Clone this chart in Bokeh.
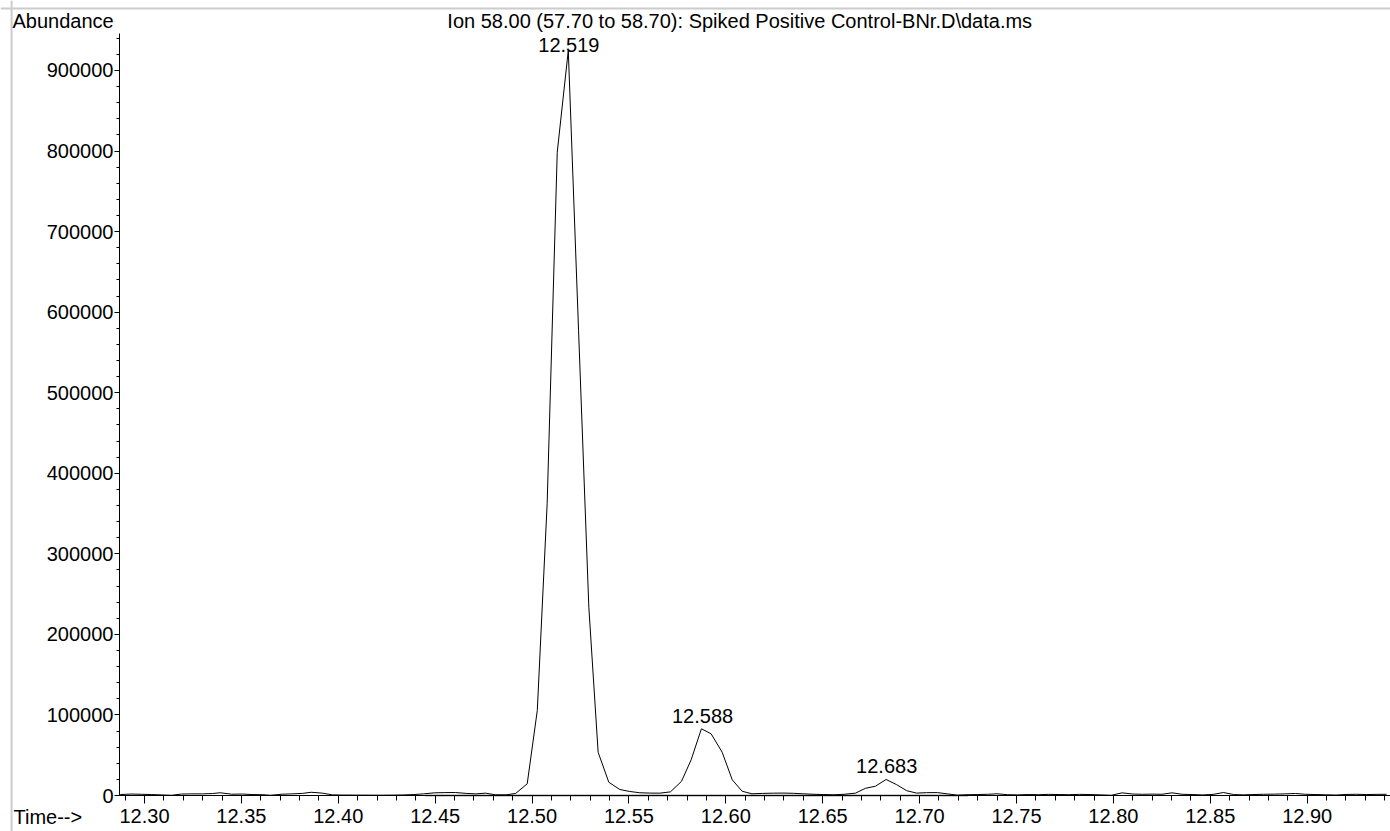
from bokeh.plotting import figure
from bokeh.models import (FixedTicker, PrintfTickFormatter, NumeralTickFormatter, Label,
                          Range1d, Span)
from bokeh.embed import file_html
from bokeh.resources import INLINE

# ---- data (retention time in min, abundance) ----
rt = [12.2875, 12.2930, 12.2985, 12.3035, 12.3090, 12.3140, 12.3190, 12.3245, 12.3300,
      12.3350, 12.3390, 12.3450, 12.3505, 12.3555, 12.3610, 12.3650, 12.3710, 12.3760,
      12.3815, 12.3860, 12.3915, 12.3970, 12.4020, 12.4125, 12.4230, 12.4335, 12.4390,
      12.4440, 12.4495, 12.4550, 12.4605, 12.4660, 12.4710, 12.4760, 12.4810, 12.4865,
      12.4915, 12.4975, 12.5027, 12.5078, 12.5130, 12.5187, 12.5240, 12.5293, 12.5341,
      12.5396, 12.5453, 12.5504, 12.5556, 12.5608, 12.5659, 12.5714, 12.5771, 12.5821,
      12.5874, 12.5924, 12.5981, 12.6033, 12.6084, 12.6135, 12.6190, 12.6245, 12.6300,
      12.6350, 12.6400, 12.6455, 12.6505, 12.6557, 12.6610, 12.6669, 12.6721, 12.6772,
      12.6827, 12.6881, 12.6933, 12.6984, 12.7036, 12.7092, 12.7144, 12.7195, 12.7250,
      12.7300, 12.7350, 12.7400, 12.7455, 12.7505, 12.7560, 12.7615, 12.7665, 12.7720,
      12.7770, 12.7825, 12.7880, 12.7935, 12.7990, 12.8045, 12.8100, 12.8150, 12.8200,
      12.8250, 12.8303, 12.8355, 12.8410, 12.8460, 12.8515, 12.8568, 12.8620, 12.8670,
      12.8720, 12.8775, 12.8830, 12.8885, 12.8940, 12.8990, 12.9045, 12.9095, 12.9150,
      12.9200, 12.9255, 12.9305, 12.9360, 12.9410]
abundance = [1200, 1800, 1500, 1200, 700, 300, 1800, 2000, 2000,
             2400, 3400, 1600, 1800, 1200, 1000, 300, 1600, 2000,
             2600, 4000, 3000, 800, 600, 500, 400, 700, 1200,
             2000, 3300, 3600, 3700, 2600, 2000, 2900, 900, 800,
             2500, 14500, 105500, 362800, 798500, 924800, 577000, 233700, 53700,
             16500, 7400, 5000, 3400, 3000, 2900, 4500, 17500, 44300,
             82800, 76600, 53800, 19500, 5300, 2100, 2600, 2900, 3000,
             2700, 2100, 1500, 1200, 900, 1500, 2900, 9000, 11500,
             19900, 13500, 6000, 3000, 3500, 3600, 2000, 400, 1000,
             1200, 1500, 2100, 1000, 800, 1200, 1000, 1400, 1200,
             1000, 1400, 1200, 800, 300, 3300, 1800, 1500, 1700,
             1500, 3300, 1500, 1200, 700, 1400, 3700, 1200, 800,
             1200, 1500, 1700, 2000, 2500, 1500, 1200, 900, 600,
             1300, 1500, 1200, 1400, 1500]

peak_rt = [12.519, 12.588, 12.683]
peak_height = [924800, 82800, 19900]
peak_text = ["12.519", "12.588", "12.683"]

baseline_rt = [12.445, 12.725]
baseline_level = [0, 0]

x_ticks = [12.30, 12.35, 12.40, 12.45, 12.50, 12.55, 12.60, 12.65, 12.70, 12.75, 12.80, 12.85, 12.90]
y_ticks = [0, 100000, 200000, 300000, 400000, 500000, 600000, 700000, 800000, 900000]

title_text = "Ion  58.00 (57.70 to 58.70): Spiked Positive Control-BNr.D\\data.ms"

FONT = "Liberation Sans"
FS = "20px"

# axis extents (data units)
X_AXIS_START, X_AXIS_END = 12.2871, 12.9430
Y_AXIS_TOP = 945900

x_minor = [round(12.29 + 0.01 * i, 2) for i in range(66)]
y_minor = [20000 * i for i in range(48)]

# the frame covers the whole canvas; axes are pinned with fixed_location
p = figure(width=1390, height=831, output_backend="svg", toolbar_location=None,
           x_range=Range1d(12.22569, 12.94300), y_range=Range1d(-44687, 986842),
           min_border=0, min_border_left=0, min_border_right=0,
           min_border_top=0, min_border_bottom=0)
p.xgrid.visible = False
p.ygrid.visible = False
p.outline_line_color = None
p.background_fill_color = "white"
p.border_fill_color = "white"

for ax in (p.xaxis[0], p.yaxis[0]):
    ax.axis_line_color = "black"
    ax.axis_line_width = 1
    ax.major_tick_line_color = "black"
    ax.minor_tick_line_color = "black"
    ax.major_tick_in = 0
    ax.minor_tick_in = 0
    ax.major_label_text_font = FONT
    ax.major_label_text_font_size = FS
    ax.major_label_text_color = "black"

xa = p.xaxis[0]
xa.ticker = FixedTicker(ticks=x_ticks, minor_ticks=x_minor)
xa.formatter = PrintfTickFormatter(format="%.2f")
xa.major_tick_out = 8
xa.minor_tick_out = 5
xa.major_label_standoff = 5
xa.fixed_location = 0
xa.bounds = (X_AXIS_START, X_AXIS_END)

ya = p.yaxis[0]
ya.ticker = FixedTicker(ticks=y_ticks, minor_ticks=y_minor)
ya.formatter = NumeralTickFormatter(format="0")
ya.major_tick_out = 5
ya.minor_tick_out = 3
ya.major_label_standoff = 1
ya.fixed_location = X_AXIS_START
ya.bounds = (0, Y_AXIS_TOP)

# light grey page frame (top and left edges)
p.add_layout(Span(location=976900, dimension="width", line_color="#cccccc", line_width=2))
p.add_layout(Span(location=12.2314, dimension="height", line_color="#cccccc", line_width=2))

p.line(baseline_rt, baseline_level, line_color="#9a9a9a", line_width=2)
p.line(rt, abundance, line_color="black", line_width=1)

offsets = [5, 13, 13]
for x, h, t, off in zip(peak_rt, peak_height, peak_text, offsets):
    p.add_layout(Label(x=x, y=h, text=t, text_align="center", text_baseline="alphabetic",
                       y_offset=off, text_font=FONT, text_font_size=FS, text_color="black"))

p.add_layout(Label(x=12.6086, y=950844, text=title_text, text_align="center",
                   text_baseline="alphabetic", y_offset=8, text_font=FONT,
                   text_font_size=FS, text_color="black"))
p.add_layout(Label(x=12.2319, y=952085, text="Abundance", text_align="left",
                   text_baseline="alphabetic", y_offset=8, text_font=FONT,
                   text_font_size=FS, text_color="black"))
p.add_layout(Label(x=12.2324, y=-35998, text="Time-->", text_align="left",
                   text_baseline="alphabetic", y_offset=8, text_font=FONT,
                   text_font_size=FS, text_color="black"))

open("out.html", "w").write(file_html(p, INLINE))
